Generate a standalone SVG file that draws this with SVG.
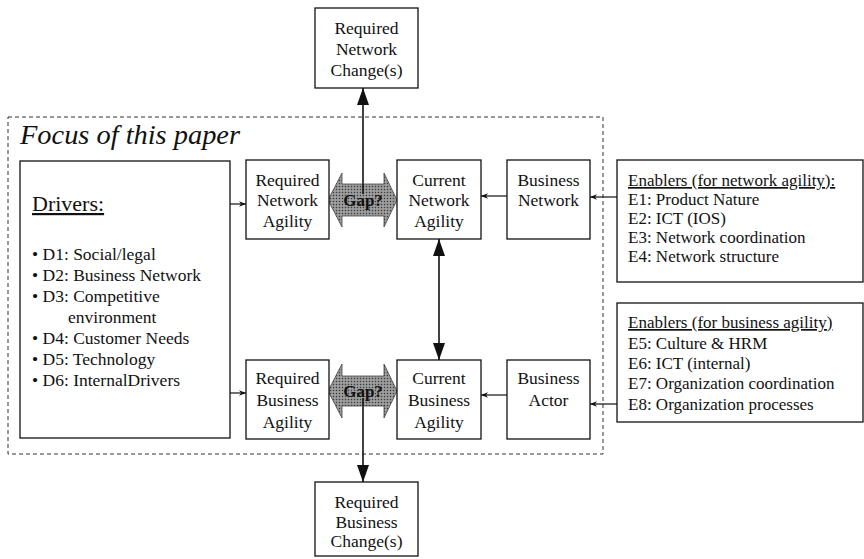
<svg xmlns="http://www.w3.org/2000/svg" width="864" height="559" viewBox="0 0 864 559" font-family="'Liberation Serif','Times New Roman','DejaVu Serif',serif">
<defs>
<style>
text{font-family:"Liberation Serif","Times New Roman","DejaVu Serif",serif;fill:#111;}
.t{font-size:17.5px;text-anchor:middle;}
.l{font-size:17.5px;}
.e{font-size:17px;}
.box{fill:#fff;stroke:#111;stroke-width:1.3;}
.c{stroke:#111;stroke-width:1.2;fill:none;}
.cb{stroke:#111;stroke-width:1.6;fill:none;}
.gap{fill:url(#hatch);stroke:#444;stroke-width:0.8;}
.u{text-decoration:underline;}
</style>
<pattern id="hatch" width="3" height="3" patternUnits="userSpaceOnUse">
<rect width="3" height="3" fill="#8c8c8c"/>
<rect width="1" height="1" fill="#3a3a3a"/>
<rect x="1.5" y="1.5" width="1" height="1" fill="#cfcfcf"/>
</pattern>
<marker id="sa" viewBox="0 0 10 10" refX="10" refY="5" markerWidth="7" markerHeight="7" markerUnits="userSpaceOnUse" orient="auto">
<path d="M0,1 L10,5 L0,9 L3,5 Z" fill="#111"/>
</marker>
<marker id="ba" viewBox="0 0 10 10" refX="10" refY="5" markerWidth="17" markerHeight="12" markerUnits="userSpaceOnUse" orient="auto" preserveAspectRatio="none">
<path d="M0,0 L10,5 L0,10 Z" fill="#111"/>
</marker>
<marker id="bs" viewBox="0 0 10 10" refX="0" refY="5" markerWidth="17" markerHeight="12" markerUnits="userSpaceOnUse" orient="auto" preserveAspectRatio="none">
<path d="M10,0 L0,5 L10,10 Z" fill="#111"/>
</marker>
</defs>
<rect width="864" height="559" fill="#fff"/>

<g id="focus">
<rect x="8" y="117" width="595" height="337" fill="none" stroke="#333" stroke-width="1" stroke-dasharray="4,3"/>
<text x="20" y="144" font-family="'Liberation Serif','Times New Roman',serif" font-size="27" font-style="italic" textLength="220" lengthAdjust="spacingAndGlyphs">Focus of this paper</text>
</g>

<g id="connectors">
<line class="c" x1="220" y1="204" x2="246" y2="204" marker-end="url(#sa)"/>
<line class="c" x1="220" y1="393" x2="246" y2="393" marker-end="url(#sa)"/>
<line class="c" x1="507" y1="196" x2="481" y2="196" marker-end="url(#sa)"/>
<line class="c" x1="617" y1="197" x2="590" y2="197" marker-end="url(#sa)"/>
<line class="c" x1="507" y1="395" x2="481" y2="395" marker-end="url(#sa)"/>
<line class="c" x1="617" y1="404" x2="590" y2="404" marker-end="url(#sa)"/>
<line class="cb" x1="439" y1="239" x2="439" y2="360" marker-start="url(#bs)" marker-end="url(#ba)"/>
<line class="cb" x1="363" y1="190" x2="363" y2="88" marker-end="url(#ba)"/>
<line class="cb" x1="363" y1="400" x2="363" y2="482" marker-end="url(#ba)"/>
</g>

<g id="gap-network">
<polygon class="gap" points="328,200 342,173 342,184 384,184 384,173 397,200 384,227 384,216 342,216 342,227"/>
<line class="cb" x1="363" y1="184" x2="363" y2="194"/>
<text x="363" y="206" font-size="17" font-weight="bold" text-anchor="middle">Gap?</text>
</g>
<g id="gap-business">
<polygon class="gap" points="328,391 342,364 342,376 384,376 384,364 397,391 384,418 384,406 342,406 342,418"/>
<line class="cb" x1="363" y1="398" x2="363" y2="406"/>
<text x="363" y="397" font-size="17" font-weight="bold" text-anchor="middle">Gap?</text>
</g>

<g id="required-network-change">
<rect class="box" x="315" y="8" width="103" height="80"/>
<text class="t" x="366.5" y="34">Required</text>
<text class="t" x="366.5" y="55">Network</text>
<text class="t" x="366.5" y="76">Change(s)</text>
</g>

<g id="required-business-change">
<rect class="box" x="315" y="482" width="103" height="74"/>
<text class="t" x="366.5" y="508">Required</text>
<text class="t" x="366.5" y="528">Business</text>
<text class="t" x="366.5" y="547">Change(s)</text>
</g>

<g id="drivers">
<rect class="box" x="20" y="161" width="210" height="277"/>
<text class="u" x="32" y="211" font-size="22">Drivers:</text>
<text class="l" x="32" y="260">• D1: Social/legal</text>
<text class="l" x="32" y="281">• D2: Business Network</text>
<text class="l" x="32" y="302">• D3: Competitive</text>
<text class="l" x="68" y="323">environment</text>
<text class="l" x="32" y="344">• D4: Customer Needs</text>
<text class="l" x="32" y="365">• D5: Technology</text>
<text class="l" x="32" y="386">• D6: InternalDrivers</text>
</g>

<g id="required-network-agility">
<rect class="box" x="246" y="160" width="83" height="79"/>
<text class="t" x="287.5" y="186">Required</text>
<text class="t" x="287.5" y="206">Network</text>
<text class="t" x="287.5" y="227">Agility</text>
</g>
<g id="current-network-agility">
<rect class="box" x="397" y="160" width="84" height="79"/>
<text class="t" x="439" y="186">Current</text>
<text class="t" x="439" y="206">Network</text>
<text class="t" x="439" y="227">Agility</text>
</g>
<g id="business-network">
<rect class="box" x="507" y="160" width="83" height="79"/>
<text class="t" x="548.5" y="186">Business</text>
<text class="t" x="548.5" y="206">Network</text>
</g>

<g id="required-business-agility">
<rect class="box" x="246" y="360" width="83" height="79"/>
<text class="t" x="287.5" y="384">Required</text>
<text class="t" x="287.5" y="406">Business</text>
<text class="t" x="287.5" y="428">Agility</text>
</g>
<g id="current-business-agility">
<rect class="box" x="397" y="360" width="84" height="79"/>
<text class="t" x="439" y="384">Current</text>
<text class="t" x="439" y="406">Business</text>
<text class="t" x="439" y="428">Agility</text>
</g>
<g id="business-actor">
<rect class="box" x="507" y="360" width="83" height="79"/>
<text class="t" x="548.5" y="384">Business</text>
<text class="t" x="548.5" y="406">Actor</text>
</g>

<g id="enablers-network">
<rect class="box" x="617" y="160" width="246" height="122"/>
<text class="e u" x="628" y="186">Enablers (for network agility):</text>
<text class="e" x="628" y="205">E1: Product Nature</text>
<text class="e" x="628" y="224">E2: ICT (IOS)</text>
<text class="e" x="628" y="243">E3: Network coordination</text>
<text class="e" x="628" y="262">E4: Network structure</text>
</g>
<g id="enablers-business">
<rect class="box" x="617" y="303" width="246" height="119"/>
<text class="e u" x="628" y="328">Enablers (for business agility)</text>
<text class="e" x="628" y="349">E5: Culture &amp; HRM</text>
<text class="e" x="628" y="369">E6: ICT (internal)</text>
<text class="e" x="628" y="389">E7: Organization coordination</text>
<text class="e" x="628" y="410">E8: Organization processes</text>
</g>
</svg>
